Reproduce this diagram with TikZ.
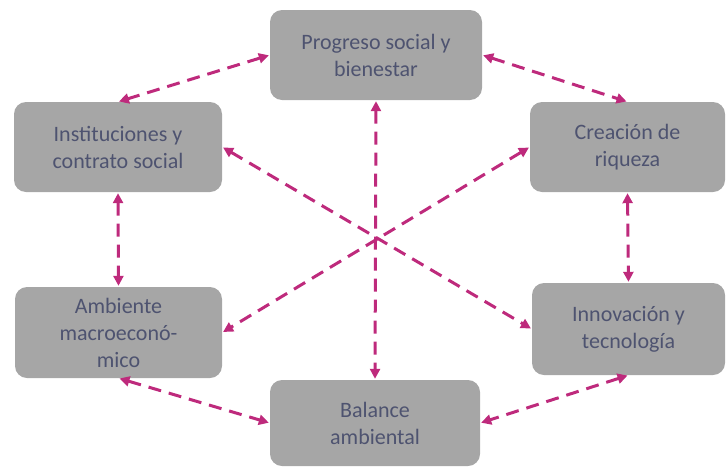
\documentclass[tikz,border=0pt]{standalone}
\usepackage{fontspec}
\setmainfont{Carlito}
\usetikzlibrary{arrows.meta}
\definecolor{boxgray}{HTML}{A6A6A6}
\definecolor{txtcol}{HTML}{4E5370}
\definecolor{arrcol}{HTML}{BE2A7C}
\tikzset{
  box/.style={draw=none, fill=boxgray, rounded corners=12pt, inner sep=0pt,
    font=\fontsize{22}{27}\selectfont, text=txtcol, align=center},
  arr/.style={draw=arrcol, line width=3pt, dash pattern=on 13pt off 8pt,
    {Triangle[length=10pt,width=10pt]}-{Triangle[length=10pt,width=10pt]}, shorten <=1pt, shorten >=1pt}
}
\begin{document}
\begin{tikzpicture}[x=1pt,y=-1pt]
\useasboundingbox (0,0) rectangle (728,469);
\node[box, minimum width=212pt, minimum height=90pt] (top) at (376,55) {Progreso social y\\ bienestar};
\node[box, minimum width=208pt, minimum height=90pt] (inst) at (118,147) {Instituciones y\\contrato social};
\node[box, minimum width=195pt, minimum height=90pt] (crea) at (627.5,147) {Creación de\\ riqueza};
\node[box, minimum width=207pt, minimum height=91pt] (amb) at (118.5,332.5) {Ambiente\\macroeconó-\\mico};
\node[box, minimum width=193pt, minimum height=92pt] (innov) at (628.5,329) {Innovación y\\ tecnología};
\node[box, minimum width=210pt, minimum height=86pt] (bal) at (375,423) {Balance\\ambiental};
\draw[arr] (top.west) -- (inst.north);
\draw[arr] (top.east) -- (crea.north);
\draw[arr] (inst.south) -- (amb.north);
\draw[arr] (crea.south) -- (innov.north);
\draw[arr] (amb.south) -- (bal.west);
\draw[arr] (innov.south) -- (bal.east);
\draw[arr] (top.south) -- (bal.north);
\draw[arr] (inst.east) -- (innov.west);
\draw[arr] (crea.west) -- (amb.east);
\end{tikzpicture}
\end{document}
